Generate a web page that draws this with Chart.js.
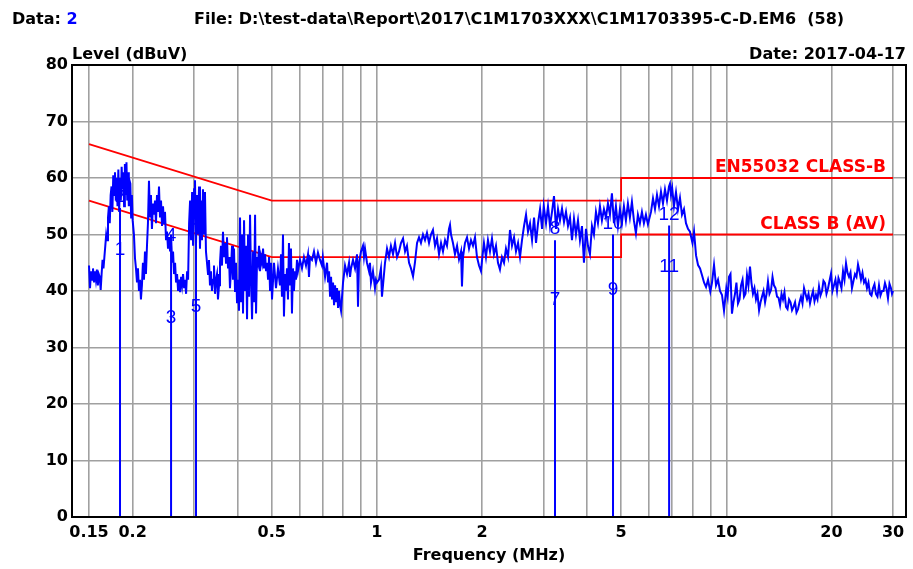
<!DOCTYPE html>
<html>
<head>
<meta charset="utf-8">
<script src="https://cdn.jsdelivr.net/npm/chart.js@4.4.0/dist/chart.umd.min.js"></script>
<style>
  html, body { margin: 0; padding: 0; background: #fff; }
  #wrap { position: relative; width: 913px; height: 569px; }
</style>
</head>
<body>
<div id="wrap"><canvas id="emc" width="913" height="569"></canvas></div>
<script>
// SCAN TRACE (MHz / dBuV)
const scanFreq = [
  0.150,0.151,0.152,0.153,0.154,0.155,0.156,0.157,0.158,0.159,
  0.160,0.161,0.162,0.163,0.164,0.165,0.166,0.167,0.168,0.169,
  0.170,0.171,0.172,0.173,0.174,0.175,0.176,0.177,0.178,0.179,
  0.180,0.181,0.182,0.183,0.184,0.185,0.186,0.187,0.188,0.189,
  0.190,0.191,0.192,0.193,0.194,0.195,0.196,0.197,0.198,0.199,
  0.200,
  0.2017,0.2031,0.2044,0.2058,0.2071,0.2085,0.2099,0.2112,0.2126,0.2140,
  0.2155,0.2169,0.2183,0.2198,0.2212,0.2227,0.2242,0.2256,0.2271,0.2286,
  0.2302,0.2317,0.2332,0.2348,0.2363,0.2379,0.2395,0.2411,0.2427,0.2443,
  0.2459,0.2475,0.2492,0.2508,0.2525,0.2542,0.2559,0.2576,0.2593,0.2610,
  0.2627,0.2645,0.2662,0.2680,0.2698,0.2716,0.2734,0.2752,0.2770,0.2788,
  0.2807,0.2825,0.2844,0.2863,0.2882,0.2901,0.2920,0.2939,0.2959,0.2978,
  0.2998,
  0.3016,0.3036,0.3056,0.3076,0.3097,0.3117,0.3138,0.3158,0.3179,0.3200,
  0.3221,0.3242,0.3264,0.3286,0.3307,0.3329,0.3351,0.3373,0.3396,0.3418,
  0.3441,0.3464,0.3487,0.3509,0.3533,0.3556,0.3579,0.3603,0.3627,0.3651,
  0.3675,0.3700,0.3724,0.3749,0.3774,0.3798,0.3824,0.3849,0.3874,0.3900,
  0.3926,0.3951,0.3978,0.4004,0.4031,0.4058,0.4085,0.4112,0.4139,0.4167,
  0.4194,0.4222,0.4250,0.4278,0.4307,0.4335,0.4364,0.4393,0.4422,0.4451,
  0.4481,0.4510,0.4540,0.4570,0.4600,0.4630,0.4661,0.4692,0.4723,0.4754,
  0.4786,0.4817,0.4849,0.4881,0.4914,0.4946,0.4979,0.5010,
  0.5076,0.5143,0.5211,0.5280,0.5315,0.5350,0.5386,0.5421,0.5457,0.5493,
  0.5529,0.5566,0.5602,0.5640,0.5677,0.5714,0.5752,0.5790,0.5828,0.5867,
  0.5906,0.5945,0.6024,0.6104,0.6184,0.6267,0.6350,0.6392,0.6434,0.6520,
  0.6606,0.6694,0.6782,0.6873,0.6963,0.7002,0.7107,0.7201,0.7249,0.7297,
  0.7345,0.7393,0.7442,0.7491,0.7541,0.7591,0.7641,0.7691,0.7742,0.7794,
  0.7845,0.7897,0.8000,0.8106,0.8214,0.8322,0.8377,0.8433,0.8544,0.8658,
  0.8772,0.8830,0.8889,0.9006,0.9125,0.9185,0.9246,0.9368,0.9493,0.9555,
  0.9618,0.9745,0.9875,0.9940,1.0007,
  1.014,1.027,1.034,1.041,1.055,1.069,1.083,1.097,1.112,1.127,
  1.142,1.157,1.172,1.188,1.204,1.219,1.236,1.252,1.269,1.285,
  1.303,1.320,1.337,1.355,1.373,1.391,1.410,1.428,1.447,1.467,
  1.486,1.506,1.526,1.546,1.567,1.587,1.608,1.619,1.630,1.651,
  1.673,1.696,1.718,1.741,1.752,1.764,1.787,1.811,1.835,1.859,
  1.884,1.909,1.934,1.960,1.986,2.000,
  2.025,2.052,2.079,2.107,2.135,2.163,2.192,2.221,2.250,2.280,
  2.311,2.341,2.373,2.404,2.436,2.469,2.501,2.535,2.568,2.602,
  2.637,2.672,2.707,2.743,2.780,2.817,2.854,2.892,2.931,2.970,
  3.003,
  3.048,3.088,3.129,3.171,3.213,3.255,3.299,3.342,3.387,3.432,
  3.477,3.523,3.570,3.617,3.665,3.713,3.763,3.812,3.863,3.914,
  3.966,4.018,4.072,4.126,4.180,4.236,4.292,4.349,4.406,4.465,
  4.524,4.584,4.645,4.706,4.769,4.832,4.896,4.961,
  5.026,5.093,5.160,5.229,5.298,5.369,5.440,5.512,5.585,5.659,
  5.735,5.811,5.888,5.966,6.088,6.169,6.250,6.333,6.417,6.502,
  6.588,6.676,6.764,6.854,6.899,6.945,7.000,7.083,7.178,7.273,
  7.369,7.467,7.566,7.666,7.768,7.871,8.000,8.085,8.192,8.301,
  8.411,8.522,8.635,8.750,8.866,9.000,9.101,9.222,9.345,9.468,
  9.594,9.721,9.850,10.00,
  10.09,10.18,10.28,10.38,10.48,10.59,10.69,10.80,10.91,11.02,
  11.13,11.24,11.35,11.46,11.57,11.69,11.80,11.92,12.04,12.16,
  12.28,12.41,12.53,12.65,12.78,12.91,13.04,13.16,13.29,13.43,
  13.56,13.69,13.83,13.97,14.11,14.25,14.39,14.53,14.67,14.82,
  14.97,15.12,15.27,15.42,15.57,15.73,15.88,16.04,16.20,16.36,
  16.52,16.69,16.85,17.02,17.19,17.36,17.53,17.71,17.88,18.06,
  18.24,18.42,18.60,18.79,18.97,19.16,19.35,19.55,19.74,19.94,
  20.13,20.33,20.53,20.74,20.94,21.15,21.36,21.58,21.79,22.01,
  22.23,22.45,22.67,22.89,23.12,23.35,23.58,23.82,24.05,24.29,
  24.53,24.78,25.02,25.27,25.52,25.78,26.03,26.29,26.55,26.81,
  27.08,27.35,27.62,27.90,28.17,28.45,28.73,29.02,29.31,29.60,
  29.80,30.00
];
const scanLevel = [
  44.5,40.5,43.5,42,44,41.5,43.5,42,43.8,41,
  43,42.5,40.2,43,45.5,44,46,48,50,49,
  53,55,52,57,58.5,54,60.5,57,61,56,
  60,55,61.5,54,60,56,62,58,61,55,
  62.5,57,62.8,56,61,55,59.5,59,53,57,
  52.5,
  50,45.8,44,41.5,44,40,42,38.5,41,45,
  42,47,43,48,52,59.5,53,57,51,55.5,
  53.5,56,52,57,54,58.5,53,56,51.5,55,
  52,54,49,50.5,47.5,49.5,47,50,45,47,
  43,45,41.5,43,40,42,39.8,42.5,41,43,
  40.5,42,39.5,43.5,42,52,56,49,57.5,48,
  58,
  59.6,48,57,50,58.5,47.5,56,49,58,50,
  57.5,47,45,43,45.5,41,43.5,40,42,44.5,
  39.5,42,43,38.5,41,45,48,44.5,50.5,46,
  48.5,45,49.5,44,46,40.5,44,48,42,47.5,
  40,45,38,42,36.5,53,38,50,36,52.5,
  40,48,35,50,39,53.5,42,35,47,38,
  53.5,36,46,45,48,43.5,46,45,47.5,44,
  46.5,43.5,45,42,46,40,45,38.5,
  45,40.5,44,41,46.5,39,50,35.5,43,40,
  44,38.5,48.5,41,47.5,36,44,40,43.5,42,
  45.5,43.5,45.5,44,46,44.5,46.5,42.5,46,45.5,
  47,45,46.8,45.5,44.5,46,42.5,45,41.5,43.5,
  39,42.5,38.5,41.5,37.5,41,38,40.5,37,40,
  37.5,36.5,41.5,44.5,43,45,42.5,44,45.5,44,
  46.5,37.2,45,47,48,46,47.5,45,43.5,45,
  41.5,43.5,40.5,42,41.5,
  42,44,39,41,45,47.5,46,48,46.5,48.5,
  46,47,48.5,49.3,47,48,45,44,42.6,45,
  48.5,49.5,48.5,50,49,50.3,48.5,50,50.8,48,
  49.3,46.5,48.5,47,49,48,51,51.7,50,48.5,
  46.5,48,45.6,47,40.8,46,48.5,49.5,47.5,49,
  48,49.5,46,44.5,43.5,45.5,
  48.5,46,49,47,49.3,46.5,48,45,43.8,46,
  45,47.5,46,50.8,48,49.5,47,48.5,46,49,
  51.5,53.5,50.5,52,49,53,48.5,52,54.5,51,
  55,
  52,55,51.5,54,56.8,51,54.5,52.5,54.6,52.2,
  54,51.5,53,49,52.8,50,52.5,49,51.5,45,
  51,48,46.5,51.5,50,54,52,55,52.5,54.5,
  53,55.5,53.5,57.3,52,55,51.5,54.5,
  52,55,52.5,55.5,53,55.8,52.5,50.2,53.5,52,
  54,52,53.5,51.8,54,56.4,54.5,57,55,57.6,
  55.5,58,56,58.5,59,57,58.2,55,57.5,54.5,
  56.5,53.5,54.5,52,51,50.5,48.5,50.5,46.3,44.6,
  44,42.8,41.5,40.7,42,39.9,41.5,44.6,41,42,
  40,39.3,36.5,40.5,
  39,42.5,43,36,38,39.5,41.5,37.8,38.5,41,
  42,39,39.5,42.8,41,44.3,41.5,39.5,40.5,38.5,
  39.5,36.6,38,39,40,38,39.5,41.7,39.5,40.2,
  42.5,41,40.5,39,38.8,37.5,39.5,38.5,39.8,37.2,
  36.8,38.5,38,36.6,37.2,38,36.2,36.8,38,39,
  37.8,40.5,39.5,38.5,39.5,37.8,39,40,38.2,39.3,
  38.5,40.8,39.2,40,41.8,41.4,39.5,40.5,41.8,43.1,
  40,41,42,40,42.3,41.5,40.5,43.5,42,44.9,
  43.2,42.5,43.3,40.5,41.8,43,42.5,44.7,43.5,42,
  43.2,41.5,42,40.5,41.5,39.5,39.2,40.5,41.2,39.5,
  39,41,39.2,40,40,41.4,40.5,38.7,41.3,40.5,
  39.5,40
];

// LIMIT LINES
const limitFreq = [0.15, 0.5, 5, 5, 30];
const qpLimit = [66, 56, 56, 60, 60];
const avLimit = [56, 46, 46, 50, 50];
const limitNames = ["EN55032 CLASS-B", "CLASS B (AV)"];

// MARKERS (odd number = AV reading, even number = QP reading)
const markerFreq = [0.184, 0.2576, 0.3036, 3.234, 4.74, 6.86];
const markerAV = [45.3, 33.3, 35.3, 36.5, 38.2, 42.4];
const markerQP = [54.7, 47.9, 50.7, 49.0, 50.0, 51.6];

// AXES
const gridFreq = [0.15, 0.2, 0.3, 0.4, 0.5, 0.6, 0.7, 0.8, 0.9, 1,
  2, 3, 4, 5, 6, 7, 8, 9, 10, 20, 30];
const labelFreq = [0.15, 0.2, 0.5, 1, 2, 5, 10, 20, 30];

const header = {
  dataNo: "2",
  file: "File: D:\\test-data\\Report\\2017\\C1M1703XXX\\C1M1703395-C-D.EM6  (58)",
  yTitle: "Level (dBuV)",
  date: "Date: 2017-04-17",
  xTitle: "Frequency (MHz)"
};

const FONT = '"DejaVu Sans", sans-serif';
const BLUE = "#0000ff";
const RED = "#ff0000";

// marker lines: from 0 up to QP reading, broken by nulls
const markerPts = [];
markerFreq.forEach((f, i) => {
  markerPts.push({ x: f, y: 0 }, { x: f, y: markerQP[i] }, { x: f, y: null });
});

const extras = {
  id: "extras",
  beforeDatasetsDraw(chart) {
    const { ctx, scales: { x, y } } = chart;
    ctx.save();
    ctx.font = '19px "Liberation Sans", Arial, sans-serif';
    ctx.fillStyle = BLUE;
    ctx.textAlign = "center";
    ctx.textBaseline = "middle";
    markerFreq.forEach((f, i) => {
      const px = x.getPixelForValue(f);
      ctx.fillText(String(2 * i + 1), px, y.getPixelForValue(markerAV[i]) - 11);
      ctx.fillText(String(2 * i + 2), px, y.getPixelForValue(markerQP[i]) - 11);
    });
    ctx.restore();
  },
  afterDraw(chart) {
    const { ctx, chartArea: a, scales: { x, y } } = chart;
    ctx.save();
    // frame
    ctx.strokeStyle = "#000";
    ctx.lineWidth = 2;
    ctx.strokeRect(a.left, a.top, a.right - a.left, a.bottom - a.top);

    // limit names
    ctx.font = "bold 17px " + FONT;
    ctx.fillStyle = RED;
    ctx.textAlign = "right";
    ctx.textBaseline = "alphabetic";
    const xr = x.getPixelForValue(30) - 7;
    ctx.fillText(limitNames[0], xr, y.getPixelForValue(60) - 6);
    ctx.fillText(limitNames[1], xr, y.getPixelForValue(50) - 6);

    // header lines
    ctx.font = "bold 16px " + FONT;
    ctx.fillStyle = "#000";
    ctx.textAlign = "left";
    ctx.fillText("Data: ", 12, 24);
    const w = ctx.measureText("Data: ").width;
    ctx.fillStyle = BLUE;
    ctx.fillText(header.dataNo, 12 + w, 24);
    ctx.fillStyle = "#000";
    ctx.fillText(header.file, 194, 24);
    ctx.fillText(header.yTitle, a.left, 59);
    ctx.textAlign = "right";
    ctx.fillText(header.date, a.right, 59);
    ctx.restore();
  }
};

new Chart(document.getElementById("emc"), {
  type: "line",
  data: {
    datasets: [
      {
        label: "scan",
        data: scanFreq.map((f, i) => ({ x: f, y: scanLevel[i] })),
        borderColor: BLUE,
        borderWidth: 2,
        pointRadius: 0,
        tension: 0
      },
      {
        label: "markers",
        data: markerPts,
        borderColor: BLUE,
        borderWidth: 2,
        pointRadius: 0,
        spanGaps: false
      },
      {
        label: limitNames[0],
        data: limitFreq.map((f, i) => ({ x: f, y: qpLimit[i] })),
        borderColor: RED,
        borderWidth: 1.8,
        pointRadius: 0
      },
      {
        label: limitNames[1],
        data: limitFreq.map((f, i) => ({ x: f, y: avLimit[i] })),
        borderColor: RED,
        borderWidth: 1.8,
        pointRadius: 0
      }
    ]
  },
  options: {
    responsive: false,
    animation: false,
    devicePixelRatio: 1,
    layout: { padding: { top: 65, right: 7, left: 0, bottom: 0 } },
    plugins: {
      legend: { display: false },
      tooltip: { enabled: false }
    },
    scales: {
      x: {
        type: "logarithmic",
        min: 0.1341,
        max: 32.68,
        afterBuildTicks: (s) => { s.ticks = gridFreq.map(v => ({ value: v })); },
        afterFit: (s) => { s.height = 52; },
        ticks: {
          autoSkip: false,
          maxRotation: 0,
          padding: 6,
          color: "#000",
          font: { family: FONT, size: 16, weight: "bold" },
          callback: (v) => labelFreq.includes(v) ? String(v) : ""
        },
        grid: { color: "#a0a0a0", lineWidth: 1.6, drawTicks: false },
        border: { display: false },
        title: {
          display: true,
          text: header.xTitle,
          color: "#000",
          font: { family: FONT, size: 16, weight: "bold" },
          padding: { top: 0, bottom: 4 }
        }
      },
      y: {
        min: 0,
        max: 80,
        afterFit: (s) => { s.width = 72; },
        ticks: {
          stepSize: 10,
          padding: 4,
          color: "#000",
          font: { family: FONT, size: 16, weight: "bold" }
        },
        grid: { color: "#a0a0a0", lineWidth: 1.6, drawTicks: false },
        border: { display: false }
      }
    }
  },
  plugins: [extras]
});
</script>
</body>
</html>
